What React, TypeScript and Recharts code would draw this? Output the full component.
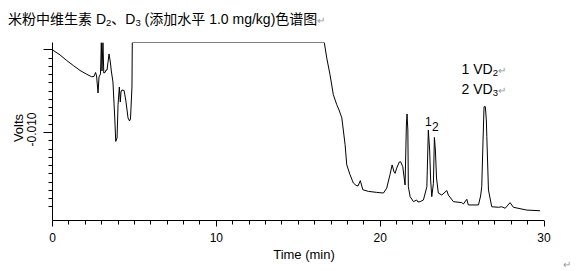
import { LineChart, Line, XAxis, YAxis, ReferenceDot } from 'recharts'

// retention time (min)
const times = [
  0, 0.46, 0.87, 1.27, 1.68, 2.09, 2.39, 2.53, 2.63, 2.69, 2.78, 2.84, 2.93, 2.98, 3.02, 3.08,
  3.13, 3.21, 3.27, 3.33, 3.39, 3.45, 3.53, 3.59, 3.69, 3.8, 3.86, 3.94, 4.0, 4.08, 4.14, 4.18,
  4.24, 4.37, 4.49, 4.61, 4.7, 4.76, 4.85, 4.87, 16.59, 16.74, 16.94, 17.14, 17.35, 17.49, 17.66,
  17.86, 17.96, 18.16, 18.36, 18.53, 18.65, 18.79, 18.94, 19.28, 19.79, 20.2, 20.4, 20.6, 20.73,
  20.85, 20.91, 21.01, 21.17, 21.25, 21.38, 21.52, 21.6, 21.64, 21.69, 21.72, 21.83, 22.03, 22.23,
  22.31, 22.44, 22.64, 22.85, 22.94, 23.02, 23.08, 23.15, 23.25, 23.31, 23.37, 23.44, 23.55, 23.76,
  24.07, 24.16, 24.47, 24.98, 25.08, 25.29, 25.38, 26.0, 26.13, 26.2, 26.28, 26.34, 26.42, 26.48,
  26.51, 26.61, 26.81, 27.22, 27.42, 27.63, 27.93, 28.13, 28.95, 29.76,
]

// detector signal (V)
const volts = [
  -0.00501, -0.00531, -0.00565, -0.00595, -0.00625, -0.00648, -0.00663, -0.00661, -0.00637,
  -0.00658, -0.00761, -0.00664, -0.00646, -0.00456, -0.00628, -0.00456, -0.0064, -0.00637,
  -0.00622, -0.00622, -0.00574, -0.00525, -0.00574, -0.00628, -0.00695, -0.00912, -0.01054,
  -0.01033, -0.00832, -0.00725, -0.00816, -0.00755, -0.00743, -0.00746, -0.00816, -0.00912,
  -0.0093, -0.00918, -0.00725, -0.00456, -0.00456, -0.0055, -0.00651, -0.00771, -0.00832,
  -0.00864, -0.00912, -0.01074, -0.01195, -0.01255, -0.01305, -0.0132, -0.01323, -0.01291,
  -0.01346, -0.01356, -0.01362, -0.01366, -0.01336, -0.01255, -0.01196, -0.01239, -0.01247,
  -0.01215, -0.01178, -0.01177, -0.01207, -0.01317, -0.00955, -0.00888, -0.00985, -0.01328,
  -0.01388, -0.01418, -0.01408, -0.0142, -0.01418, -0.01408, -0.01328, -0.00985, -0.01106,
  -0.01287, -0.01388, -0.01307, -0.0103, -0.01106, -0.01275, -0.01366, -0.01378, -0.01351,
  -0.01378, -0.01418, -0.01424, -0.01432, -0.01404, -0.01438, -0.01438, -0.01384, -0.01328,
  -0.01045, -0.00844, -0.00844, -0.00924, -0.01025, -0.01348, -0.01449, -0.01452, -0.01449,
  -0.01458, -0.01424, -0.01452, -0.01469, -0.01473,
]

const peakTimes = [22.94, 23.31]
const peakVolts = [-0.00985, -0.0103]
const peakLabels = ['1', '2']

const xTicks = Array.from({ length: 31 }, (_, i) => i)
const yTicks = Array.from({ length: 20 }, (_, i) => -(50 + i * 5) / 10000)

const rows = times.map((t, i) => ({ t, v: volts[i] }))

const FONT = "'Liberation Sans', Arial, 'Noto Sans CJK SC', sans-serif"

const XTick = ({ x, y, payload }: any) => {
  const major = payload.value % 10 === 0
  const px = Math.floor(x) + 0.5
  return (
    <g>
      <line x1={px} x2={px} y1={y} y2={y + (major ? 6 : 4)} stroke="#000" />
      {major && (
        <text x={x} y={y + 21} textAnchor="middle" fontSize={12} fontFamily={FONT} fill="#000">
          {payload.value}
        </text>
      )}
    </g>
  )
}

const YTick = ({ x, y, payload }: any) => {
  const mv = payload.value * 1000
  const major = Math.abs(Math.round(mv / 5) * 5 - mv) < 1e-6
  const py = Math.floor(y) + 0.5
  return (
    <g>
      <line x1={x - (major ? 9 : 4)} x2={x} y1={py} y2={py} stroke="#000" />
      {Math.abs(mv + 10) < 1e-6 && (
        <text
          x={36.5}
          y={y - 3}
          textAnchor="middle"
          fontSize={12}
          fontFamily={FONT}
          fill="#000"
          transform={`rotate(-90, 36.5, ${y - 3})`}
        >
          -0.010
        </text>
      )}
    </g>
  )
}

export default function App() {
  return (
    <div style={{ position: 'absolute', left: 0, top: 0, width: 583, height: 271, background: '#fff' }}>
      <LineChart
        width={583}
        height={271}
        data={rows}
        margin={{ top: 42.5, right: 39, bottom: 0, left: 0 }}
      >
        <XAxis
          type="number"
          dataKey="t"
          domain={[0, 30]}
          ticks={xTicks}
          interval={0}
          tickSize={0}
          tickMargin={0}
          tickLine={false}
          tick={(p: any) => <XTick {...p} />}
          axisLine={{ stroke: '#000' }}
          height={50.5}
          allowDataOverflow
        />
        <YAxis
          type="number"
          domain={[-0.01532, -0.004559]}
          ticks={yTicks}
          interval={0}
          tickSize={0}
          tickMargin={0}
          tickLine={false}
          tick={(p: any) => <YTick {...p} />}
          axisLine={{ stroke: '#000' }}
          width={52.5}
          allowDataOverflow
        />
        <Line
          type="linear"
          dataKey="v"
          stroke="#000"
          strokeWidth={1}
          dot={false}
          isAnimationActive={false}
        />
        {peakTimes.map((t, i) => (
          <ReferenceDot
            key={peakLabels[i]}
            x={t}
            y={peakVolts[i]}
            r={0}
            fill="none"
            stroke="none"
            label={{
              value: peakLabels[i],
              position: 'top',
              offset: i === 0 ? 4 : 6,
              dx: i === 0 ? 0 : 1,
              fontSize: 12,
              fontFamily: FONT,
              fill: '#000',
            }}
          />
        ))}
      </LineChart>
      <svg
        width={583}
        height={271}
        style={{ position: 'absolute', left: 0, top: 0, pointerEvents: 'none' }}
      >
        <text x={8} y={24} fontSize={14} fontFamily={FONT} fill="#000">
          米粉中维生素 D<tspan fontSize={9.5} dy={2}>2</tspan>
          <tspan dy={-2}>、D</tspan>
          <tspan fontSize={9.5} dy={2}>3</tspan>
          <tspan dy={-2}> (添加水平 1.0 mg/kg)色谱图</tspan>
          <tspan fill="#999" fontSize={10}>↵</tspan>
        </text>
        <text x={461.5} y={73.5} fontSize={14} fontFamily={FONT} fill="#000">
          1 VD<tspan fontSize={9.5} dy={2}>2</tspan>
          <tspan fill="#999" fontSize={10} dy={-2}>↵</tspan>
        </text>
        <text x={461.5} y={93.5} fontSize={14} fontFamily={FONT} fill="#000">
          2 VD<tspan fontSize={9.5} dy={2}>3</tspan>
          <tspan fill="#999" fontSize={10} dy={-2}>↵</tspan>
        </text>
        <text
          x={23}
          y={128}
          textAnchor="middle"
          fontSize={13}
          fontFamily={FONT}
          fill="#000"
          transform="rotate(-90, 23, 128)"
        >
          Volts
        </text>
        <text x={304} y={259} textAnchor="middle" fontSize={13} fontFamily={FONT} fill="#000">
          Time (min)
        </text>
        <text x={563} y={268} fontSize={10} fontFamily={FONT} fill="#999">
          ↵
        </text>
      </svg>
    </div>
  )
}
